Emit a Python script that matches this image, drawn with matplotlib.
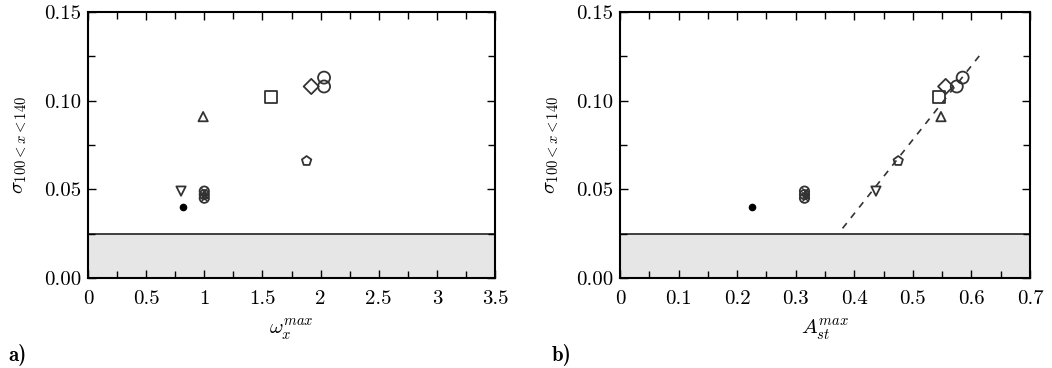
import numpy as np
import matplotlib
matplotlib.use("Agg")
import matplotlib.pyplot as plt

plt.rcParams["font.family"] = "serif"
plt.rcParams["font.serif"] = ["cmr10"]
plt.rcParams["mathtext.fontset"] = "cm"
plt.rcParams["axes.formatter.use_mathtext"] = True

# =====================================
# DATA
# =====================================

sigma_dot = [0.040]
sigma_down = [0.049]
sigma_cross = [0.049, 0.047, 0.045]
sigma_up = [0.091]
sigma_square = [0.102]
sigma_diamond = [0.108]
sigma_circle = [0.108, 0.113]
sigma_pent = [0.066]

omega_dot = [0.82]
omega_down = [0.80]
omega_cross = [1.0, 1.0, 1.0]
omega_up = [0.99]
omega_square = [1.57]
omega_diamond = [1.92]
omega_circle = [2.03, 2.03]
omega_pent = [1.88]

amp_dot = [0.225]
amp_down = [0.437]
amp_cross = [0.315, 0.315, 0.315]
amp_up = [0.548]
amp_square = [0.545]
amp_diamond = [0.556]
amp_circle = [0.575, 0.585]
amp_pent = [0.475]

fit_x = [0.38, 0.62]
fit_y = [0.028, 0.128]

threshold = 0.025

# =====================================
# PLOT
# =====================================

fig = plt.figure(figsize=(10.52, 3.68), dpi=100)
ax1 = fig.add_axes([88 / 1052, 90 / 368, 407 / 1052, 266 / 368])
ax2 = fig.add_axes([620 / 1052, 90 / 368, 410 / 1052, 266 / 368])


def draw(ax, xs, xmax, xmajor, xminor, xlabel):
    ax.axhspan(0, threshold, color="#e6e6e6", zorder=0)
    ax.axhline(threshold, color="#222222", lw=1.2, zorder=1)
    kw = dict(facecolor="none", edgecolor="#333333", linewidths=1.3, zorder=3)
    ax.scatter(xs[0], sigma_dot, s=20, color="black", zorder=3)
    ax.scatter(xs[1], sigma_down, marker="v", s=45, **kw)
    ax.scatter(xs[2], sigma_cross, marker="o", s=45, **kw)
    ax.scatter(xs[2], sigma_cross, marker="x", s=22, color="#333333",
               linewidths=1.0, zorder=3)
    ax.scatter(xs[3], sigma_up, marker="^", s=45, **kw)
    ax.scatter(xs[4], sigma_square, marker="s", s=75, **kw)
    ax.scatter(xs[5], sigma_diamond, marker="D", s=60, **kw)
    ax.scatter(xs[6], sigma_circle, marker="o", s=75, **kw)
    ax.scatter(xs[7], sigma_pent, marker="p", s=50, **kw)

    ax.set_xlim(0, xmax)
    ax.set_ylim(0, 0.15)
    ax.set_xticks(np.arange(0, xmax + 1e-9, xmajor))
    ax.set_xticks(np.arange(0, xmax + 1e-9, xminor), minor=True)
    ax.set_yticks([0, 0.05, 0.10, 0.15])
    ax.set_yticks(np.arange(0, 0.151, 0.025), minor=True)
    ax.set_yticklabels(["0.00", "0.05", "0.10", "0.15"])
    ax.tick_params(which="both", direction="in", top=True, right=True,
                   labelsize=15, width=1.0)
    ax.tick_params(which="major", length=6)
    ax.tick_params(which="minor", length=5)
    ax.tick_params(axis="x", which="major", pad=9)
    ax.tick_params(axis="y", which="major", pad=5)
    for sp in ax.spines.values():
        sp.set_linewidth(1.5)
    ax.set_xlabel(xlabel, fontsize=15, labelpad=6)
    ax.set_ylabel(r"$\sigma_{100<x<140}$", fontsize=15, labelpad=11)


draw(ax1, [omega_dot, omega_down, omega_cross, omega_up, omega_square,
           omega_diamond, omega_circle, omega_pent],
     3.5, 0.5, 0.25, r"$\omega_x^{max}$")
ax1.set_xticklabels(["0", "0.5", "1", "1.5", "2", "2.5", "3", "3.5"])

draw(ax2, [amp_dot, amp_down, amp_cross, amp_up, amp_square,
           amp_diamond, amp_circle, amp_pent],
     0.7, 0.1, 0.05, r"$A_{st}^{max}$")
ax2.set_xticklabels(["0", "0.1", "0.2", "0.3", "0.4", "0.5", "0.6", "0.7"])
ax2.plot(fit_x, fit_y, ls=(0, (4, 4)), color="#333333", lw=1.2, zorder=2)

fig.text(8 / 1052, 2 / 368, "a)", fontsize=15, family="cmb10", va="bottom")
fig.text(552 / 1052, 2 / 368, "b)", fontsize=15, family="cmb10", va="bottom")

fig.savefig("out.png", dpi=100)
